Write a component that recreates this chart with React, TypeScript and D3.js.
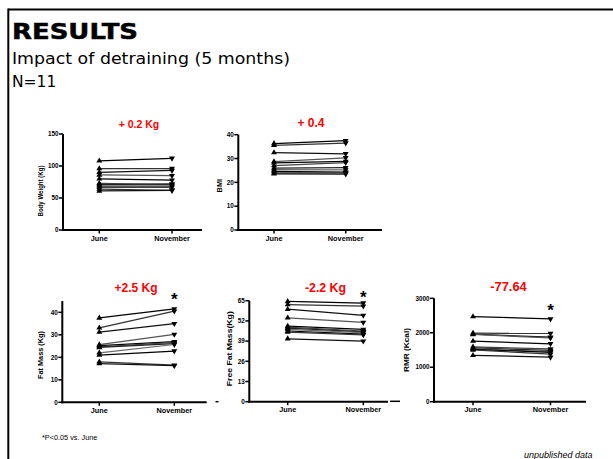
import React from 'react';
import * as d3 from 'd3';

const timepoints = ['June', 'November'];

const bodyWeightJune = [108, 96, 90, 86, 80, 73, 71, 69, 67, 64, 61];
const bodyWeightNov = [112, 96, 93, 85, 78, 71, 72, 69, 67, 62, 62];
const bmiJune = [36.3, 35.5, 32.5, 28.7, 28.2, 27.0, 26.0, 25.3, 24.6, 24.0, 23.6];
const bmiNov = [37.5, 36.5, 32.0, 30.3, 28.8, 28.3, 26.2, 25.2, 24.3, 24.0, 23.5];
const fatJune = [37.5, 33.1, 31.2, 25.6, 25.2, 24.7, 24.4, 22.0, 21.0, 18.0, 17.2];
const fatNov = [41.5, 40.5, 35.0, 30.2, 27.0, 26.6, 26.1, 25.7, 22.8, 16.5, 16.3];
const ffmJune = [64.5, 62.5, 59.5, 54.0, 48.7, 48.0, 47.3, 46.6, 45.5, 44.8, 40.5];
const ffmNov = [63.5, 61.5, 55.5, 51.0, 46.5, 45.5, 45.0, 44.5, 43.5, 43.0, 39.0];
const rmrJune = [2470, 1990, 1960, 1950, 1760, 1590, 1560, 1540, 1520, 1500, 1345];
const rmrNov = [2400, 1980, 1870, 1850, 1680, 1530, 1490, 1450, 1430, 1380, 1290];

const bodyWeightTicks = [0, 50, 100, 150];
const bmiTicks = [0, 10, 20, 30, 40];
const fatTicks = [0, 10, 20, 30, 40];
const ffmTicks = [0, 13, 26, 39, 52, 65];
const rmrTicks = [0, 1000, 2000, 3000];

const panelTitles = ['+ 0.2 Kg', '+ 0.4', '+2.5 Kg', '-2.2 Kg', '-77.64'];
const yLabels = ['Body Weight (Kg)', 'BMI', 'Fat Mass (Kg)', 'Free Fat Mass(Kg)', 'RMR (Kcal)'];
const significant = [false, false, true, true, true];

const lineColors = ['#000', '#333', '#111', '#555', '#000', '#444', '#222', '#666', '#000', '#333', '#111'];

const panels = [
  { june: bodyWeightJune, nov: bodyWeightNov, ticks: bodyWeightTicks, domain: [0, 150],
    axisX: 63, xEnd: 202, y0: 230, yTop: 134, xJ: 99.3, xN: 172,
    titleX: 139, titleY: 128, titleSize: 10.5, labX: 42.5, labY: 191, labLen: 51, starY: 0 },
  { june: bmiJune, nov: bmiNov, ticks: bmiTicks, domain: [0, 40],
    axisX: 238.3, xEnd: 382, y0: 230, yTop: 134.7, xJ: 274, xN: 345.7,
    titleX: 311, titleY: 126.7, titleSize: 12, labX: 221.5, labY: 185.7, labLen: 0, starY: 0 },
  { june: fatJune, nov: fatNov, ticks: fatTicks, domain: [0, 45],
    axisX: 62.3, xEnd: 206.7, y0: 402.3, yTop: 301.1, xJ: 99.3, xN: 174.3,
    titleX: 136, titleY: 292.3, titleSize: 12, labX: 43, labY: 355, labLen: 48, starY: 305 },
  { june: ffmJune, nov: ffmNov, ticks: ffmTicks, domain: [0, 65],
    axisX: 249.3, xEnd: 388, y0: 401.7, yTop: 300.7, xJ: 287.7, xN: 363.3,
    titleX: 325.5, titleY: 291.7, titleSize: 12.3, labX: 231.5, labY: 348.7, labLen: 75, starY: 303 },
  { june: rmrJune, nov: rmrNov, ticks: rmrTicks, domain: [0, 3000],
    axisX: 434, xEnd: 586, y0: 401.7, yTop: 298.3, xJ: 473, xN: 550.5,
    titleX: 508.5, titleY: 291, titleSize: 12.8, labX: 409, labY: 350, labLen: 44, starY: 316 },
];

const chartFont = '"Liberation Sans", Arial, sans-serif';
const slideFont = '"DejaVu Sans", Verdana, sans-serif';

function Panel({ p, idx }: { p: any; idx: number }) {
  const y = d3.scaleLinear().domain(p.domain).range([p.y0, p.yTop]);
  const x = d3.scalePoint<string>().domain(timepoints).range([p.xJ, p.xN]);
  const tri = d3.symbol().type(d3.symbolTriangle).size(15)() as string;
  const xJ = x('June') as number;
  const xN = x('November') as number;
  const labProps: any = p.labLen ? { textLength: p.labLen, lengthAdjust: 'spacingAndGlyphs' } : {};
  return (
    <g>
      {p.june.map((v: number, i: number) => (
        <line key={'l' + i} x1={xJ} y1={y(v)} x2={xN} y2={y(p.nov[i])}
          stroke={lineColors[i % lineColors.length]} strokeWidth={1.25} />
      ))}
      {p.june.map((v: number, i: number) => (
        <path key={'j' + i} d={tri} transform={`translate(${xJ},${y(v)})`} fill="#000" />
      ))}
      {p.nov.map((v: number, i: number) => (
        <path key={'n' + i} d={tri} transform={`translate(${xN},${y(v)}) rotate(180)`} fill="#000" />
      ))}
      <line x1={p.axisX} x2={p.axisX} y1={p.y0 + 1} y2={y(p.domain[1])} stroke="#000" strokeWidth={2} />
      <line x1={p.axisX - 1} x2={p.xEnd} y1={p.y0} y2={p.y0} stroke="#000" strokeWidth={2} />
      {p.ticks.map((t: number) => (
        <g key={'t' + t}>
          <line x1={p.axisX - 4} x2={p.axisX} y1={y(t)} y2={y(t)} stroke="#000" strokeWidth={1.5} />
          <text x={p.axisX - 4.5} y={y(t)} dy="0.35em" textAnchor="end" fontSize={6.3}
            fontWeight="bold" fontFamily={chartFont}>{t}</text>
        </g>
      ))}
      {timepoints.map((c) => (
        <g key={c}>
          <line x1={x(c)} x2={x(c)} y1={p.y0} y2={p.y0 + 3.5} stroke="#000" strokeWidth={1.5} />
          <text x={x(c)} y={p.y0 + 10.5} textAnchor="middle" fontSize={7.3} fontWeight="bold"
            fontFamily={chartFont}>{c}</text>
        </g>
      ))}
      <text transform={`translate(${p.labX},${p.labY}) rotate(-90)`} textAnchor="middle"
        fontSize={7.3} fontWeight="bold" fontFamily={chartFont} {...labProps}>{yLabels[idx]}</text>
      <text x={p.titleX} y={p.titleY} textAnchor="middle" fontSize={p.titleSize} fontWeight="bold"
        fill="#ff0000" fontFamily={chartFont}>{panelTitles[idx]}</text>
      {significant[idx] && (
        <text x={xN} y={p.starY} textAnchor="middle" fontSize={17} fontWeight="bold"
          fontFamily={chartFont}>*</text>
      )}
    </g>
  );
}

export default function App() {
  return (
    <svg width={613} height={459} style={{ position: 'absolute', left: 0, top: 0, background: '#fff' }}>
      <rect x={0} y={0} width={613} height={459} fill="#fff" />
      <line x1={8.3} x2={613} y1={9.5} y2={9.5} stroke="#000" strokeWidth={2.2} />
      <line x1={8.3} x2={8.3} y1={8.5} y2={459} stroke="#000" strokeWidth={2} />
      <text x={12} y={39} fontSize={22} fontWeight="bold" fontFamily={slideFont}
        stroke="#000" strokeWidth={0.5}
        textLength={126} lengthAdjust="spacingAndGlyphs">RESULTS</text>
      <text x={12} y={64} fontSize={15.5} fontFamily={slideFont}
        textLength={278} lengthAdjust="spacingAndGlyphs">Impact of detraining (5 months)</text>
      <text x={12} y={87} fontSize={15.5} fontFamily={slideFont}>N=11</text>
      {panels.map((p, i) => <Panel key={i} p={p} idx={i} />)}
      <line x1={215.5} x2={218.5} y1={401.7} y2={401.7} stroke="#000" strokeWidth={1.5} />
      <line x1={390} x2={400} y1={401.3} y2={401.3} stroke="#000" strokeWidth={1.5} />
      <text x={42} y={440} fontSize={7.3} fontFamily={chartFont}>*P&lt;0.05 vs. June</text>
      <text x={524} y={458} fontSize={9} fontStyle="italic" fontFamily={chartFont}>unpublished data</text>
    </svg>
  );
}
